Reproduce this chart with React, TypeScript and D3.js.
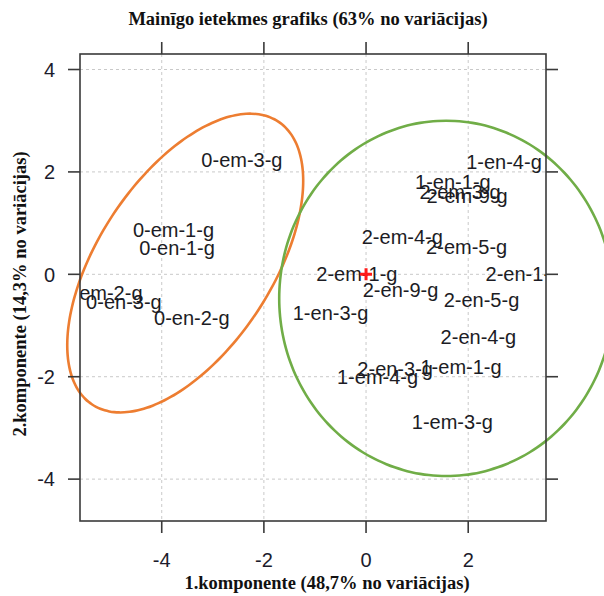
import { useEffect, useRef } from "react";
import * as d3 from "d3";

// PCA scores
const labels = [
  "0-em-3-g", "0-em-1-g", "0-en-1-g", "0-em-2-g", "0-en-3-g", "0-en-2-g",
  "1-en-4-g", "1-en-1-g", "2-em-3-g", "2-em-9-g", "2-em-4-g", "2-em-5-g",
  "2-em-1-g", "2-en-1-g", "2-en-9-g", "2-en-5-g", "1-en-3-g", "2-en-4-g",
  "1-em-1-g", "2-en-3-g", "1-em-4-g", "1-em-3-g",
];
const pc1 = [
  -2.43, -3.77, -3.7, -5.17, -4.74, -3.41,
  2.7, 1.7, 1.84, 1.98, 0.71, 1.97,
  -0.18, 3.08, 0.675, 2.26, -0.695, 2.2,
  1.86, 0.57, 0.225, 1.69,
];
const pc2 = [
  2.23, 0.865, 0.51, -0.365, -0.535, -0.84,
  2.2, 1.81, 1.61, 1.53, 0.73, 0.54,
  0.006, 0.006, -0.31, -0.49, -0.75, -1.22,
  -1.8, -1.84, -2.0, -2.88,
];

const xTicks = [-4, -2, 0, 2];
const yTicks = [-4, -2, 0, 2, 4];
const xDomain = [-5.6, 3.523];
const yDomain = [-4.818, 4.303];

// group ellipses: center x, center y, semi-axis a, semi-axis b, rotation (deg)
const ellipseCx = [-3.54, 1.57];
const ellipseCy = [0.22, -0.47];
const ellipseA = [3.31, 3.27];
const ellipseB = [1.7, 3.47];
const ellipseRot = [56.6, 0];
const ellipseColors = ["#ED7D31", "#70AD47"];

const title = "Mainīgo ietekmes grafiks (63% no variācijas)";
const xTitle = "1.komponente (48,7% no variācijas)";
const yTitle = "2.komponente (14,3% no variācijas)";

export default function App() {
  const ref = useRef<SVGSVGElement | null>(null);

  useEffect(() => {
    const W = 604;
    const H = 596;
    const m = { l: 80, r: 58, t: 54, b: 75 };
    const svg = d3.select(ref.current);
    svg.selectAll("*").remove();
    svg.attr("viewBox", `0 0 ${W} ${H}`);

    const x = d3.scaleLinear().domain(xDomain).range([m.l, W - m.r]);
    const y = d3.scaleLinear().domain(yDomain).range([H - m.b, m.t]);
    const [x0, x1] = x.range();
    const [y0, y1] = [y.range()[1], y.range()[0]];

    svg.append("rect").attr("width", W).attr("height", H).attr("fill", "#fff");

    svg
      .append("defs")
      .append("clipPath")
      .attr("id", "panel-clip")
      .append("rect")
      .attr("x", x0)
      .attr("y", y0)
      .attr("width", x1 - x0)
      .attr("height", y1 - y0);

    // grid
    const grid = svg.append("g").attr("stroke", "#c9c9c9").attr("stroke-dasharray", "3 3");
    xTicks.forEach((t) => {
      grid.append("line").attr("x1", x(t)).attr("x2", x(t)).attr("y1", y0).attr("y2", y1);
    });
    yTicks.forEach((t) => {
      grid.append("line").attr("x1", x0).attr("x2", x1).attr("y1", y(t)).attr("y2", y(t));
    });

    // point labels
    const lab = svg
      .append("g")
      .attr("clip-path", "url(#panel-clip)")
      .attr("font-family", "'Liberation Sans', Arial, sans-serif")
      .attr("font-size", 20)
      .attr("fill", "#1c1c24")
      .attr("text-anchor", "middle");
    labels.forEach((l, i) => {
      lab.append("text").attr("x", x(pc1[i])).attr("y", y(pc2[i])).attr("dy", "0.36em").text(l);
    });

    // centre mark
    const cx = x(0);
    const cy = y(0);
    svg
      .append("path")
      .attr("d", `M${cx - 6},${cy}H${cx + 6}M${cx},${cy - 6}V${cy + 6}`)
      .attr("stroke", "#ff1a1a")
      .attr("stroke-width", 3);

    // ellipses
    const steps = d3.range(0, 361, 3);
    ellipseCx.forEach((ecx, k) => {
      const th = (ellipseRot[k] * Math.PI) / 180;
      const pts = steps.map((deg) => {
        const t = (deg * Math.PI) / 180;
        const ux = ellipseA[k] * Math.cos(t);
        const uy = ellipseB[k] * Math.sin(t);
        return [ecx + ux * Math.cos(th) - uy * Math.sin(th), ellipseCy[k] + ux * Math.sin(th) + uy * Math.cos(th)];
      });
      const line = d3
        .line<number[]>()
        .x((d) => x(d[0]))
        .y((d) => y(d[1]))
        .curve(d3.curveCardinalClosed);
      svg
        .append("path")
        .attr("d", line(pts.slice(0, -1)) ?? "")
        .attr("fill", "none")
        .attr("stroke", ellipseColors[k])
        .attr("stroke-width", 2.6);
    });

    // frame + ticks
    svg
      .append("rect")
      .attr("x", x0)
      .attr("y", y0)
      .attr("width", x1 - x0)
      .attr("height", y1 - y0)
      .attr("fill", "none")
      .attr("stroke", "#3a3a3a")
      .attr("stroke-width", 1.6);
    const tk = svg.append("g").attr("stroke", "#3a3a3a").attr("stroke-width", 1.6);
    xTicks.forEach((t) => {
      tk.append("line").attr("x1", x(t)).attr("x2", x(t)).attr("y1", y1).attr("y2", y1 + 12);
      tk.append("line").attr("x1", x(t)).attr("x2", x(t)).attr("y1", y0).attr("y2", y0 - 12);
    });
    yTicks.forEach((t) => {
      tk.append("line").attr("x1", x0).attr("x2", x0 - 12).attr("y1", y(t)).attr("y2", y(t));
      tk.append("line").attr("x1", x1).attr("x2", x1 + 12).attr("y1", y(t)).attr("y2", y(t));
    });

    const tl = svg
      .append("g")
      .attr("font-family", "'Liberation Sans', Arial, sans-serif")
      .attr("font-size", 20)
      .attr("fill", "#1c1c2c");
    xTicks.forEach((t) => {
      tl.append("text").attr("x", x(t)).attr("y", 567).attr("text-anchor", "middle").text(String(t));
    });
    yTicks.forEach((t) => {
      tl.append("text")
        .attr("x", 55)
        .attr("y", y(t))
        .attr("dy", "0.36em")
        .attr("text-anchor", "end")
        .text(String(t));
    });

    // titles
    const tt = svg
      .append("g")
      .attr("font-family", "'Liberation Serif', 'Times New Roman', serif")
      .attr("font-weight", "bold")
      .attr("font-size", 18.5)
      .attr("fill", "#111")
      .attr("text-anchor", "middle");
    tt.append("text").attr("x", 308).attr("y", 25).text(title);
    tt.append("text").attr("x", 327).attr("y", 589).text(xTitle);
    tt.append("text")
      .attr("transform", `translate(26,294) rotate(-90)`)
      .text(yTitle);
  }, []);

  return (
    <svg
      ref={ref}
      width={604}
      height={596}
      style={{ position: "absolute", left: 0, top: 0, display: "block" }}
    />
  );
}
